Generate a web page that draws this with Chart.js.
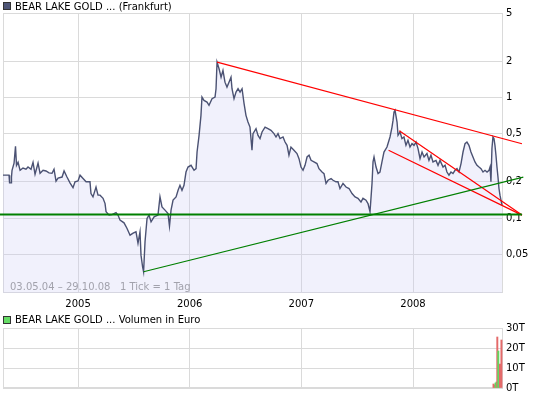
<!DOCTYPE html>
<html>
<head>
<meta charset="utf-8">
<script src="https://cdn.jsdelivr.net/npm/chart.js@4.4.0/dist/chart.umd.min.js"></script>
<style>
  body { margin: 0; background: #fff; width: 545px; height: 397px; overflow: hidden; position: relative;
         font: 10px "DejaVu Sans", Verdana, sans-serif; }
  canvas { position: absolute; left: 0; }
  .box { position: absolute; left: 3px; width: 6px; height: 6px; border: 1px solid #333; }
  .txt { position: absolute; left: 15px; line-height: 12px; white-space: pre; color: #000; }
</style>
</head>
<body>
<canvas id="price" width="545" height="315" style="top:0"></canvas>
<canvas id="volume" width="545" height="87" style="top:310px"></canvas>

<div class="box" style="top:2px;background:#4e5677"></div>
<div class="txt" style="top:1px">BEAR LAKE GOLD ... (Frankfurt)</div>
<div class="txt" style="top:281px;left:10px;color:#a2a2ac">03.05.04 – 29.10.08   1 Tick = 1 Tag</div>
<div class="box" style="top:316px;background:#66dd66"></div>
<div class="txt" style="top:314px">BEAR LAKE GOLD ... Volumen in Euro</div>

<script>
// x values are decimal years, prices in EUR
const priceSeries = [
  [2004.328,0.227],[2004.382,0.227],[2004.387,0.196],[2004.400,0.196],[2004.404,0.219],[2004.409,0.249],
  [2004.427,0.285],[2004.440,0.394],[2004.449,0.274],[2004.463,0.290],[2004.481,0.249],[2004.507,0.260],
  [2004.534,0.254],[2004.552,0.265],[2004.579,0.254],[2004.597,0.290],[2004.615,0.231],[2004.642,0.286],
  [2004.660,0.235],[2004.687,0.249],[2004.713,0.246],[2004.740,0.237],[2004.767,0.235],[2004.785,0.254],
  [2004.803,0.203],[2004.821,0.215],[2004.857,0.219],[2004.875,0.246],[2004.901,0.219],[2004.928,0.196],
  [2004.955,0.179],[2004.973,0.200],
  [2005.000,0.203],[2005.018,0.227],[2005.045,0.213],[2005.072,0.200],[2005.107,0.200],[2005.116,0.160],
  [2005.134,0.150],[2005.161,0.181],[2005.179,0.155],[2005.197,0.155],[2005.224,0.146],[2005.242,0.132],
  [2005.251,0.113],[2005.278,0.106],[2005.304,0.107],[2005.340,0.111],[2005.358,0.106],[2005.376,0.0963],
  [2005.412,0.0915],[2005.439,0.0822],[2005.466,0.0723],[2005.493,0.0752],[2005.519,0.0770],[2005.537,0.0621],
  [2005.555,0.0770],[2005.564,0.0494],[2005.578,0.0396],[2005.587,0.0360],[2005.600,0.0637],[2005.618,0.0994],
  [2005.636,0.106],[2005.654,0.0932],[2005.681,0.1025],[2005.716,0.106],[2005.734,0.150],[2005.752,0.124],
  [2005.779,0.1165],[2005.806,0.109],[2005.819,0.0859],[2005.833,0.1165],[2005.851,0.141],[2005.878,0.150],
  [2005.896,0.170],[2005.913,0.187],[2005.931,0.170],[2005.949,0.187],[2005.967,0.241],[2005.985,0.265],
  [2006.012,0.274],[2006.039,0.249],[2006.057,0.257],[2006.066,0.353],[2006.084,0.485],[2006.101,0.71],
  [2006.110,1.006],[2006.128,0.944],[2006.155,0.914],[2006.173,0.859],[2006.200,0.975],[2006.227,1.006],
  [2006.236,1.18],[2006.245,1.957],[2006.263,1.727],[2006.281,1.472],[2006.298,1.672],[2006.316,1.337],
  [2006.334,1.217],[2006.352,1.337],[2006.370,1.472],[2006.379,1.18],[2006.397,0.975],[2006.415,1.106],
  [2006.433,1.18],[2006.451,1.106],[2006.469,1.18],[2006.487,0.887],[2006.504,0.71],[2006.522,0.625],
  [2006.540,0.568],[2006.558,0.365],[2006.567,0.501],[2006.594,0.551],[2006.612,0.485],[2006.630,0.456],
  [2006.648,0.517],[2006.675,0.568],[2006.701,0.551],[2006.728,0.534],[2006.755,0.501],[2006.773,0.470],
  [2006.791,0.501],[2006.809,0.456],[2006.836,0.470],[2006.854,0.427],[2006.872,0.401],[2006.889,0.332],
  [2006.907,0.388],[2006.934,0.365],[2006.961,0.343],[2006.979,0.311],[2006.997,0.265],
  [2007.015,0.249],[2007.033,0.274],[2007.051,0.321],[2007.069,0.332],[2007.087,0.301],[2007.113,0.292],
  [2007.140,0.283],[2007.158,0.257],[2007.185,0.241],[2007.203,0.234],[2007.221,0.194],[2007.239,0.206],
  [2007.266,0.213],[2007.284,0.206],[2007.310,0.200],[2007.328,0.200],[2007.346,0.176],[2007.373,0.194],
  [2007.400,0.181],[2007.427,0.176],[2007.454,0.160],[2007.481,0.150],[2007.507,0.146],[2007.534,0.136],
  [2007.552,0.146],[2007.579,0.141],[2007.597,0.132],[2007.615,0.113],[2007.633,0.194],[2007.642,0.292],
  [2007.651,0.321],[2007.669,0.265],[2007.687,0.234],[2007.704,0.241],[2007.722,0.292],[2007.740,0.353],
  [2007.767,0.388],[2007.794,0.470],[2007.812,0.568],[2007.821,0.645],[2007.830,0.756],[2007.839,0.781],
  [2007.857,0.625],[2007.866,0.485],[2007.884,0.517],[2007.901,0.456],[2007.919,0.470],[2007.937,0.401],
  [2007.955,0.441],[2007.973,0.388],[2007.991,0.414],
  [2008.009,0.401],[2008.027,0.427],[2008.045,0.377],[2008.063,0.311],[2008.081,0.353],[2008.099,0.321],
  [2008.125,0.343],[2008.143,0.301],[2008.161,0.332],[2008.179,0.292],[2008.206,0.301],[2008.224,0.274],
  [2008.242,0.301],[2008.269,0.265],[2008.287,0.274],[2008.304,0.241],[2008.322,0.227],[2008.340,0.241],
  [2008.358,0.234],[2008.376,0.249],[2008.394,0.257],[2008.412,0.241],[2008.430,0.283],[2008.448,0.353],
  [2008.466,0.414],[2008.483,0.427],[2008.501,0.401],[2008.519,0.353],[2008.537,0.321],[2008.555,0.292],
  [2008.573,0.274],[2008.591,0.265],[2008.609,0.257],[2008.627,0.241],[2008.645,0.249],[2008.663,0.241],
  [2008.681,0.249],[2008.690,0.265],[2008.698,0.200],[2008.707,0.377],[2008.716,0.470],[2008.725,0.456],
  [2008.734,0.401],[2008.743,0.332],[2008.752,0.265],[2008.761,0.219],[2008.770,0.176],[2008.779,0.155],
  [2008.788,0.141],[2008.797,0.128]
];

// trend lines: [start, end] as [year, price]
const trendRedTop = [[2006.245, 1.957], [2008.976, 0.413]];
const trendRedUpper = [[2007.877, 0.53], [2008.976, 0.106]];
const trendRedLower = [[2007.781, 0.365], [2008.976, 0.106]];
const trendGreenRise = [[2005.587, 0.036], [2008.988, 0.219]];
const trendGreenFlat = [[2004.30, 0.107], [2008.976, 0.107]];

// volume (thousand EUR), up = green day
const volYears = [2008.721, 2008.730, 2008.739, 2008.748, 2008.755, 2008.764, 2008.770, 2008.779, 2008.792];
const volValues = [2, 1.5, 2.5, 3, 25.5, 18.5, 11, 12, 24];
const volUp = [false, false, true, true, false, true, true, false, false];

const yearTicks = [2005, 2006, 2007, 2008];
const priceTicks = [0.05, 0.1, 0.2, 0.5, 1, 2, 5];
const volTicks = [0, 10, 20, 30];

const xMin = 2004.328, xMax = 2008.806;
const gridColor = '#dadada';

Chart.defaults.font.family = '"DejaVu Sans", Verdana, sans-serif';
Chart.defaults.font.size = 10;
Chart.defaults.color = '#000';

// light frame round the plot area
const frame = {
  id: 'frame',
  beforeDatasetsDraw(chart) {
    const a = chart.chartArea, ctx = chart.ctx;
    ctx.save();
    ctx.strokeStyle = gridColor;
    ctx.lineWidth = 1;
    ctx.strokeRect(Math.round(a.left) + 0.5, Math.round(a.top) + 0.5,
                   Math.round(a.right - a.left) - 1, Math.round(a.bottom - a.top) - 1);
    ctx.restore();
  }
};

const toXY = arr => arr.map(([x, y]) => ({ x, y }));
const trend = (pts, color, width) => ({
  data: toXY(pts), borderColor: color, borderWidth: width, pointRadius: 0,
  fill: false, tension: 0, clip: false, order: 1
});

new Chart(document.getElementById('price'), {
  type: 'line',
  data: {
    datasets: [
      {
        data: toXY(priceSeries),
        borderColor: '#4b5273',
        borderWidth: 1.4,
        backgroundColor: 'rgba(205,205,245,0.28)',
        fill: 'start',
        pointRadius: 0,
        tension: 0,
        order: 2
      },
      trend(trendGreenFlat, '#008000', 2),
      trend(trendGreenRise, '#008000', 1.2),
      trend(trendRedTop, '#ff0000', 1.2),
      trend(trendRedUpper, '#ff0000', 1.2),
      trend(trendRedLower, '#ff0000', 1.2)
    ]
  },
  options: {
    responsive: false,
    animation: false,
    events: [],
    layout: { padding: { left: 3, top: 13 } },
    plugins: { legend: { display: false }, tooltip: { enabled: false } },
    scales: {
      x: {
        type: 'linear', min: xMin, max: xMax, bounds: 'data',
        grid: { color: gridColor, drawTicks: false },
        border: { display: false },
        ticks: { padding: 5, maxRotation: 0, autoSkip: false, callback: v => String(v) },
        afterBuildTicks: s => { s.ticks = yearTicks.map(v => ({ value: v })); },
        afterFit: s => { s.height = 22; }
      },
      y: {
        type: 'logarithmic', position: 'right', min: 0.024, max: 5,
        grid: { color: gridColor, drawTicks: false },
        border: { display: false },
        ticks: { padding: 3, autoSkip: false, callback: v => String(v).replace('.', ',') },
        afterBuildTicks: s => { s.ticks = priceTicks.map(v => ({ value: v })); },
        afterFit: s => { s.width = 42; }
      }
    }
  },
  plugins: [frame]
});

new Chart(document.getElementById('volume'), {
  type: 'bar',
  data: {
    datasets: [{
      data: volYears.map((x, i) => ({ x, y: volValues[i] })),
      backgroundColor: volUp.map(u => u ? '#62d862' : '#e46a6a'),
      barThickness: 1.3
    }]
  },
  options: {
    responsive: false,
    animation: false,
    events: [],
    layout: { padding: { left: 3, top: 18 } },
    plugins: { legend: { display: false }, tooltip: { enabled: false } },
    scales: {
      x: {
        type: 'linear', min: xMin, max: xMax, bounds: 'data', offset: false,
        grid: { color: gridColor, drawTicks: false, offset: false },
        border: { display: false },
        ticks: { display: false },
        afterBuildTicks: s => { s.ticks = yearTicks.map(v => ({ value: v })); },
        afterFit: s => { s.height = 7; }
      },
      y: {
        type: 'linear', position: 'right', min: 0, max: 30,
        grid: { color: gridColor, drawTicks: false },
        border: { display: false },
        ticks: { padding: 3, autoSkip: false, callback: v => v + 'T' },
        afterBuildTicks: s => { s.ticks = volTicks.map(v => ({ value: v })); },
        afterFit: s => { s.width = 42; }
      }
    }
  },
  plugins: [frame]
});
</script>
</body>
</html>
